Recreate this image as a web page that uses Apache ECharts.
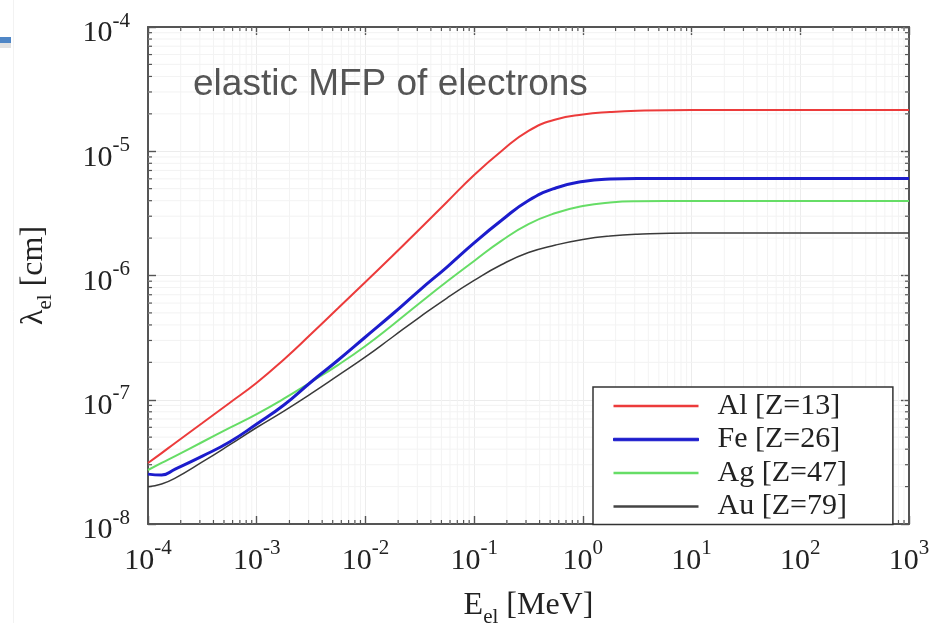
<!DOCTYPE html>
<html><head><meta charset="utf-8">
<script src="https://cdn.jsdelivr.net/npm/echarts@6/dist/echarts.min.js"></script>
<style>html,body{margin:0;padding:0;background:#fff}#c{width:933px;height:623px}</style>
</head><body><div id="c"></div>
<script>
// Electron energy [MeV]
const energies = [1e-4, 1.334e-4, 1.778e-4, 3.162e-4, 5.623e-4, 1e-3, 1.778e-3, 3.162e-3, 5.623e-3,
  1e-2, 1.778e-2, 3.162e-2, 5.623e-2, 0.1, 0.1778, 0.3162, 0.5623, 1, 1.778, 3.162, 10, 100, 1000];
// elastic mean free path [cm]
const alValues = [3.10e-8, 3.72e-8, 4.49e-8, 6.50e-8, 9.42e-8, 1.37e-7, 2.11e-7, 3.38e-7, 5.47e-7,
  8.87e-7, 1.44e-6, 2.37e-6, 3.91e-6, 6.44e-6, 1.00e-5, 1.46e-5, 1.80e-5, 1.98e-5, 2.07e-5, 2.12e-5, 2.15e-5, 2.15e-5, 2.15e-5];
const feValues = [2.52e-8, 2.48e-8, 2.77e-8, 3.52e-8, 4.57e-8, 6.38e-8, 9.08e-8, 1.39e-7, 2.09e-7,
  3.20e-7, 4.90e-7, 7.64e-7, 1.17e-6, 1.83e-6, 2.77e-6, 4.02e-6, 5.06e-6, 5.71e-6, 5.98e-6, 6.04e-6, 6.04e-6, 6.04e-6, 6.04e-6];
const agValues = [2.72e-8, 3.10e-8, 3.52e-8, 4.57e-8, 5.93e-8, 7.67e-8, 1.02e-7, 1.39e-7, 1.91e-7,
  2.71e-7, 4.00e-7, 6.01e-7, 8.95e-7, 1.31e-6, 1.90e-6, 2.59e-6, 3.18e-6, 3.62e-6, 3.87e-6, 3.96e-6, 3.98e-6, 3.98e-6, 3.98e-6];
const auValues = [1.99e-8, 2.10e-8, 2.34e-8, 3.16e-8, 4.33e-8, 5.98e-8, 8.11e-8, 1.12e-7, 1.57e-7,
  2.21e-7, 3.20e-7, 4.63e-7, 6.59e-7, 9.12e-7, 1.22e-6, 1.53e-6, 1.76e-6, 1.95e-6, 2.08e-6, 2.15e-6, 2.20e-6, 2.20e-6, 2.20e-6];
const seriesNames = ['Al [Z=13]', 'Fe [Z=26]', 'Ag [Z=47]', 'Au [Z=79]'];
const seriesColors = ['#ec3b3b', '#1c1ccc', '#66dd66', '#3a3a3a'];
const titleText = 'elastic MFP of electrons';
const xMin = 1e-4, xMax = 1e3, yMin = 1e-8, yMax = 1e-4;

const SERIF = "'Liberation Serif','DejaVu Serif',serif";
const SANS = "'Liberation Sans',Arial,sans-serif";
const FRAME = '#555';

function minorValues(loExp, hiExp) {
  const out = [];
  for (let e = loExp; e < hiExp; e++) for (let m = 2; m <= 9; m++) out.push(m * Math.pow(10, e));
  return out;
}
const xMinorTicks = minorValues(-4, 3);
const yMinorTicks = minorValues(-8, -4);

function powLabel(v) {
  const e = Math.round(Math.log10(v));
  return '{b|10}{s|' + e + '}';
}
const labelRich = {
  b: { fontFamily: SERIF, fontSize: 30, color: '#222', lineHeight: 38, verticalAlign: 'bottom' },
  s: { fontFamily: SERIF, fontSize: 21, color: '#222', lineHeight: 38, verticalAlign: 'top' }
};
const nameRich = {
  n: { fontFamily: SERIF, fontSize: 32, color: '#222', lineHeight: 38, verticalAlign: 'top' },
  sub: { fontFamily: SERIF, fontSize: 21, color: '#222', lineHeight: 38, verticalAlign: 'bottom' }
};

function xMinorItem(params, api) {
  const cs = params.coordSys;
  const x = api.coord([api.value(0), yMin])[0];
  const b = cs.y + cs.height;
  return { type: 'group', children: [
    { type: 'line', shape: { x1: x, y1: cs.y, x2: x, y2: b }, style: { stroke: '#f3f3f3', lineWidth: 1 } },
    { type: 'line', shape: { x1: x, y1: b, x2: x, y2: b - 4 }, style: { stroke: FRAME, lineWidth: 1.2 } },
    { type: 'line', shape: { x1: x, y1: cs.y, x2: x, y2: cs.y + 4 }, style: { stroke: FRAME, lineWidth: 1.2 } }
  ]};
}
function yMinorItem(params, api) {
  const cs = params.coordSys;
  const y = api.coord([xMin, api.value(1)])[1];
  const r = cs.x + cs.width;
  return { type: 'group', children: [
    { type: 'line', shape: { x1: cs.x, y1: y, x2: r, y2: y }, style: { stroke: '#f3f3f3', lineWidth: 1 } },
    { type: 'line', shape: { x1: cs.x, y1: y, x2: cs.x + 4, y2: y }, style: { stroke: FRAME, lineWidth: 1.2 } },
    { type: 'line', shape: { x1: r, y1: y, x2: r - 4, y2: y }, style: { stroke: FRAME, lineWidth: 1.2 } }
  ]};
}

function lineSeries(idx, vals, width, z) {
  return {
    name: seriesNames[idx], type: 'line', data: energies.map((e, i) => [e, vals[i]]),
    symbol: 'none', smooth: 0.5, z: z,
    lineStyle: { color: seriesColors[idx], width: width }, itemStyle: { color: seriesColors[idx] }
  };
}

const axisCommon = {
  type: 'log', logBase: 10,
  axisLine: { show: true, onZero: false, lineStyle: { color: FRAME, width: 2 } },
  axisTick: { show: true, inside: true, length: 8, lineStyle: { color: FRAME, width: 1.4 } },
  splitLine: { show: false },
  minorTick: { show: false }
};

const chart = echarts.init(document.getElementById('c'), null, { renderer: 'canvas' });
chart.setOption({
  animation: false,
  backgroundColor: '#fff',
  grid: { left: 148, right: 24, top: 27, bottom: 99, containLabel: false, outerBoundsMode: 'none' },
  graphic: [
    { type: 'rect', shape: { x: 0, y: 37, width: 11, height: 6 }, style: { fill: '#4f86c6' } },
    { type: 'rect', shape: { x: 0, y: 43, width: 11, height: 5 }, style: { fill: '#e2e2e2' } },
    { type: 'line', shape: { x1: 13.5, y1: 0, x2: 13.5, y2: 623 }, style: { stroke: '#f2f2f2', lineWidth: 1 } },
    { type: 'text', left: 193, top: 66, style: { text: titleText, font: '37px ' + SANS, fill: '#555' }, z: 10 }
  ],
  xAxis: [
    Object.assign({}, axisCommon, {
      min: xMin, max: xMax, position: 'bottom',
      splitLine: { show: true, lineStyle: { color: '#ececec', width: 1 } },
      axisLabel: { margin: 14, formatter: powLabel, rich: labelRich },
      name: '{n|E}{sub|el}{n| [MeV]}', nameLocation: 'middle', nameGap: 66,
      nameTextStyle: { rich: nameRich }
    }),
    Object.assign({}, axisCommon, { min: xMin, max: xMax, position: 'top', axisLabel: { show: false } })
  ],
  yAxis: [
    Object.assign({}, axisCommon, {
      min: yMin, max: yMax, position: 'left',
      splitLine: { show: true, lineStyle: { color: '#ececec', width: 1 } },
      axisLabel: { margin: 18, formatter: powLabel, rich: labelRich, padding: [5, 0, 0, 0] },
      name: '{n|λ}{sub|el}{n| [cm]}', nameLocation: 'middle', nameGap: 92, nameRotate: 90,
      nameTextStyle: { rich: nameRich }
    }),
    Object.assign({}, axisCommon, { min: yMin, max: yMax, position: 'right', axisLabel: { show: false } })
  ],
  legend: {
    orient: 'vertical', left: 593, top: 387,
    padding: [4, 46, 3, 20], itemGap: 3.5, itemWidth: 85, itemHeight: 2.5, icon: 'rect',
    backgroundColor: '#fff', borderColor: '#333', borderWidth: 1.5, borderRadius: 0,
    textStyle: { fontFamily: SERIF, fontSize: 30, color: '#222', lineHeight: 28, padding: [0, 0, 0, 14] },
    data: [
      { name: seriesNames[0] },
      { name: seriesNames[1], itemStyle: { borderColor: seriesColors[1], borderWidth: 1 } },
      { name: seriesNames[2] },
      { name: seriesNames[3], itemStyle: { color: '#444' } }
    ],
    selectedMode: false
  },
  series: [
    { type: 'custom', renderItem: xMinorItem, data: xMinorTicks.map(v => [v, yMin]), z: 1, silent: true, clip: false, encode: { x: 0, y: 1 } },
    { type: 'custom', renderItem: yMinorItem, data: yMinorTicks.map(v => [xMin, v]), z: 1, silent: true, clip: false, encode: { x: 0, y: 1 } },
    lineSeries(3, auValues, 1.5, 3),
    lineSeries(2, agValues, 2, 4),
    lineSeries(1, feValues, 3, 5),
    lineSeries(0, alValues, 2, 6)
  ]
});
</script></body></html>
